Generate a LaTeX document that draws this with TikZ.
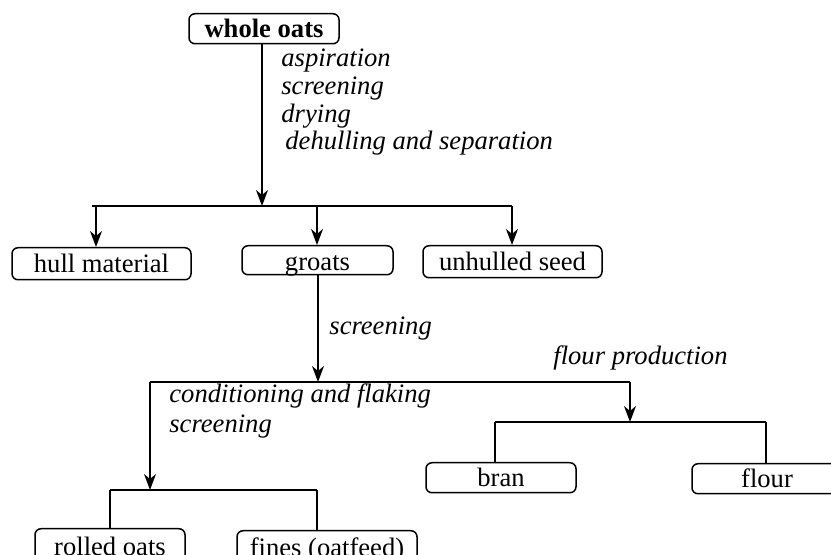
\documentclass[tikz,border=0pt]{standalone}
\usepackage{fontspec}
\setmainfont{Liberation Serif}
\usetikzlibrary{arrows.meta}
\begin{document}
\begin{tikzpicture}[x=0.5pt,y=-0.5pt,
  txt/.style={font=\fontsize{13.3}{14}\selectfont},
  box/.style={txt, draw, rounded corners=3pt, line width=0.75pt, inner xsep=0pt, inner ysep=0pt,
    minimum height=0pt, anchor=north},
  lbl/.style={anchor=base west, inner sep=0pt, font=\fontsize{13.3}{14}\selectfont\itshape},
  flow/.style={line width=0.75pt},
  arr/.style={flow, -{Stealth[length=8pt,width=6pt,inset=2.5pt]}}]
\useasboundingbox (0,0) rectangle (831,555);

% product boxes (placed by their top edge)
\node[box, font=\fontsize{13.3}{14}\selectfont\bfseries, minimum width=75pt,
  text height=12pt, text depth=3pt] (whole) at (264,13) {whole oats};
\node[box, minimum width=89.5pt, text height=12.5pt, text depth=3.5pt] (hull) at (101.5,247) {hull material};
\node[box, minimum width=75.5pt, text height=12.5pt, text depth=2pt] (groats) at (317.5,245) {groats};
\node[box, minimum width=89.5pt, text height=12.5pt, text depth=3.5pt] (unhulled) at (512.5,245) {unhulled seed};
\node[box, minimum width=75pt, text height=12pt, text depth=3pt] (bran) at (501,462) {bran};
\node[box, minimum width=75pt, text height=12pt, text depth=3pt] (flour) at (767,463) {flour};
\node[box, minimum width=75pt, text height=13.5pt, text depth=3pt] (rolled) at (110,528) {rolled oats};
\node[box, minimum width=90pt, text height=13pt, text depth=3pt] (fines) at (327,530) {fines (oatfeed)};

% junction points
\coordinate (j1) at (262,206);
\coordinate (b1l) at (92,206);
\coordinate (h1) at (96,206);
\coordinate (g1) at (317,206);
\coordinate (b1r) at (512,206);
\coordinate (j2) at (318,382);
\coordinate (b2l) at (150,382);
\coordinate (b2r) at (630,382);
\coordinate (j3) at (150,490);
\coordinate (b3l) at (110,490);
\coordinate (b3r) at (317,490);
\coordinate (j4) at (630,422);
\coordinate (b4l) at (495,422);
\coordinate (b4r) at (766,422);

% first stage: cleaning and dehulling
\draw[arr] (whole.south -| j1) -- (j1);
\draw[flow] (b1l) -- (b1r);
\draw[arr] (h1) -- (h1 |- hull.north);
\draw[arr] (g1) -- (g1 |- groats.north);
\draw[arr] (b1r) -- (b1r |- unhulled.north);

% second stage: groats processing
\draw[arr] (groats.south -| j2) -- (j2);
\draw[flow] (b2l) -- (b2r);
\draw[arr] (b2l) -- (j3);
\draw[flow] (b3l) -- (b3r);
\draw[flow] (b3l) -- (b3l |- rolled.north);
\draw[flow] (b3r) -- (b3r |- fines.north);
\draw[arr] (b2r) -- (j4);
\draw[flow] (b4l) -- (b4r);
\draw[flow] (b4l) -- (b4l |- bran.north);
\draw[flow] (b4r) -- (b4r |- flour.north);

% process labels
\node[lbl] (l1) at (281,67) {aspiration};
\node[lbl] (l2) at (281,95) {screening};
\node[lbl] (l3) at (281,123) {drying};
\node[lbl] (l4) at (285,150) {dehulling and separation};
\node[lbl] (l5) at (329,335) {screening};
\node[lbl] (l6) at (553,365) {flour production};
\node[lbl] (l7) at (169,403) {conditioning and flaking};
\node[lbl] (l8) at (169,433) {screening};
\end{tikzpicture}
\end{document}
